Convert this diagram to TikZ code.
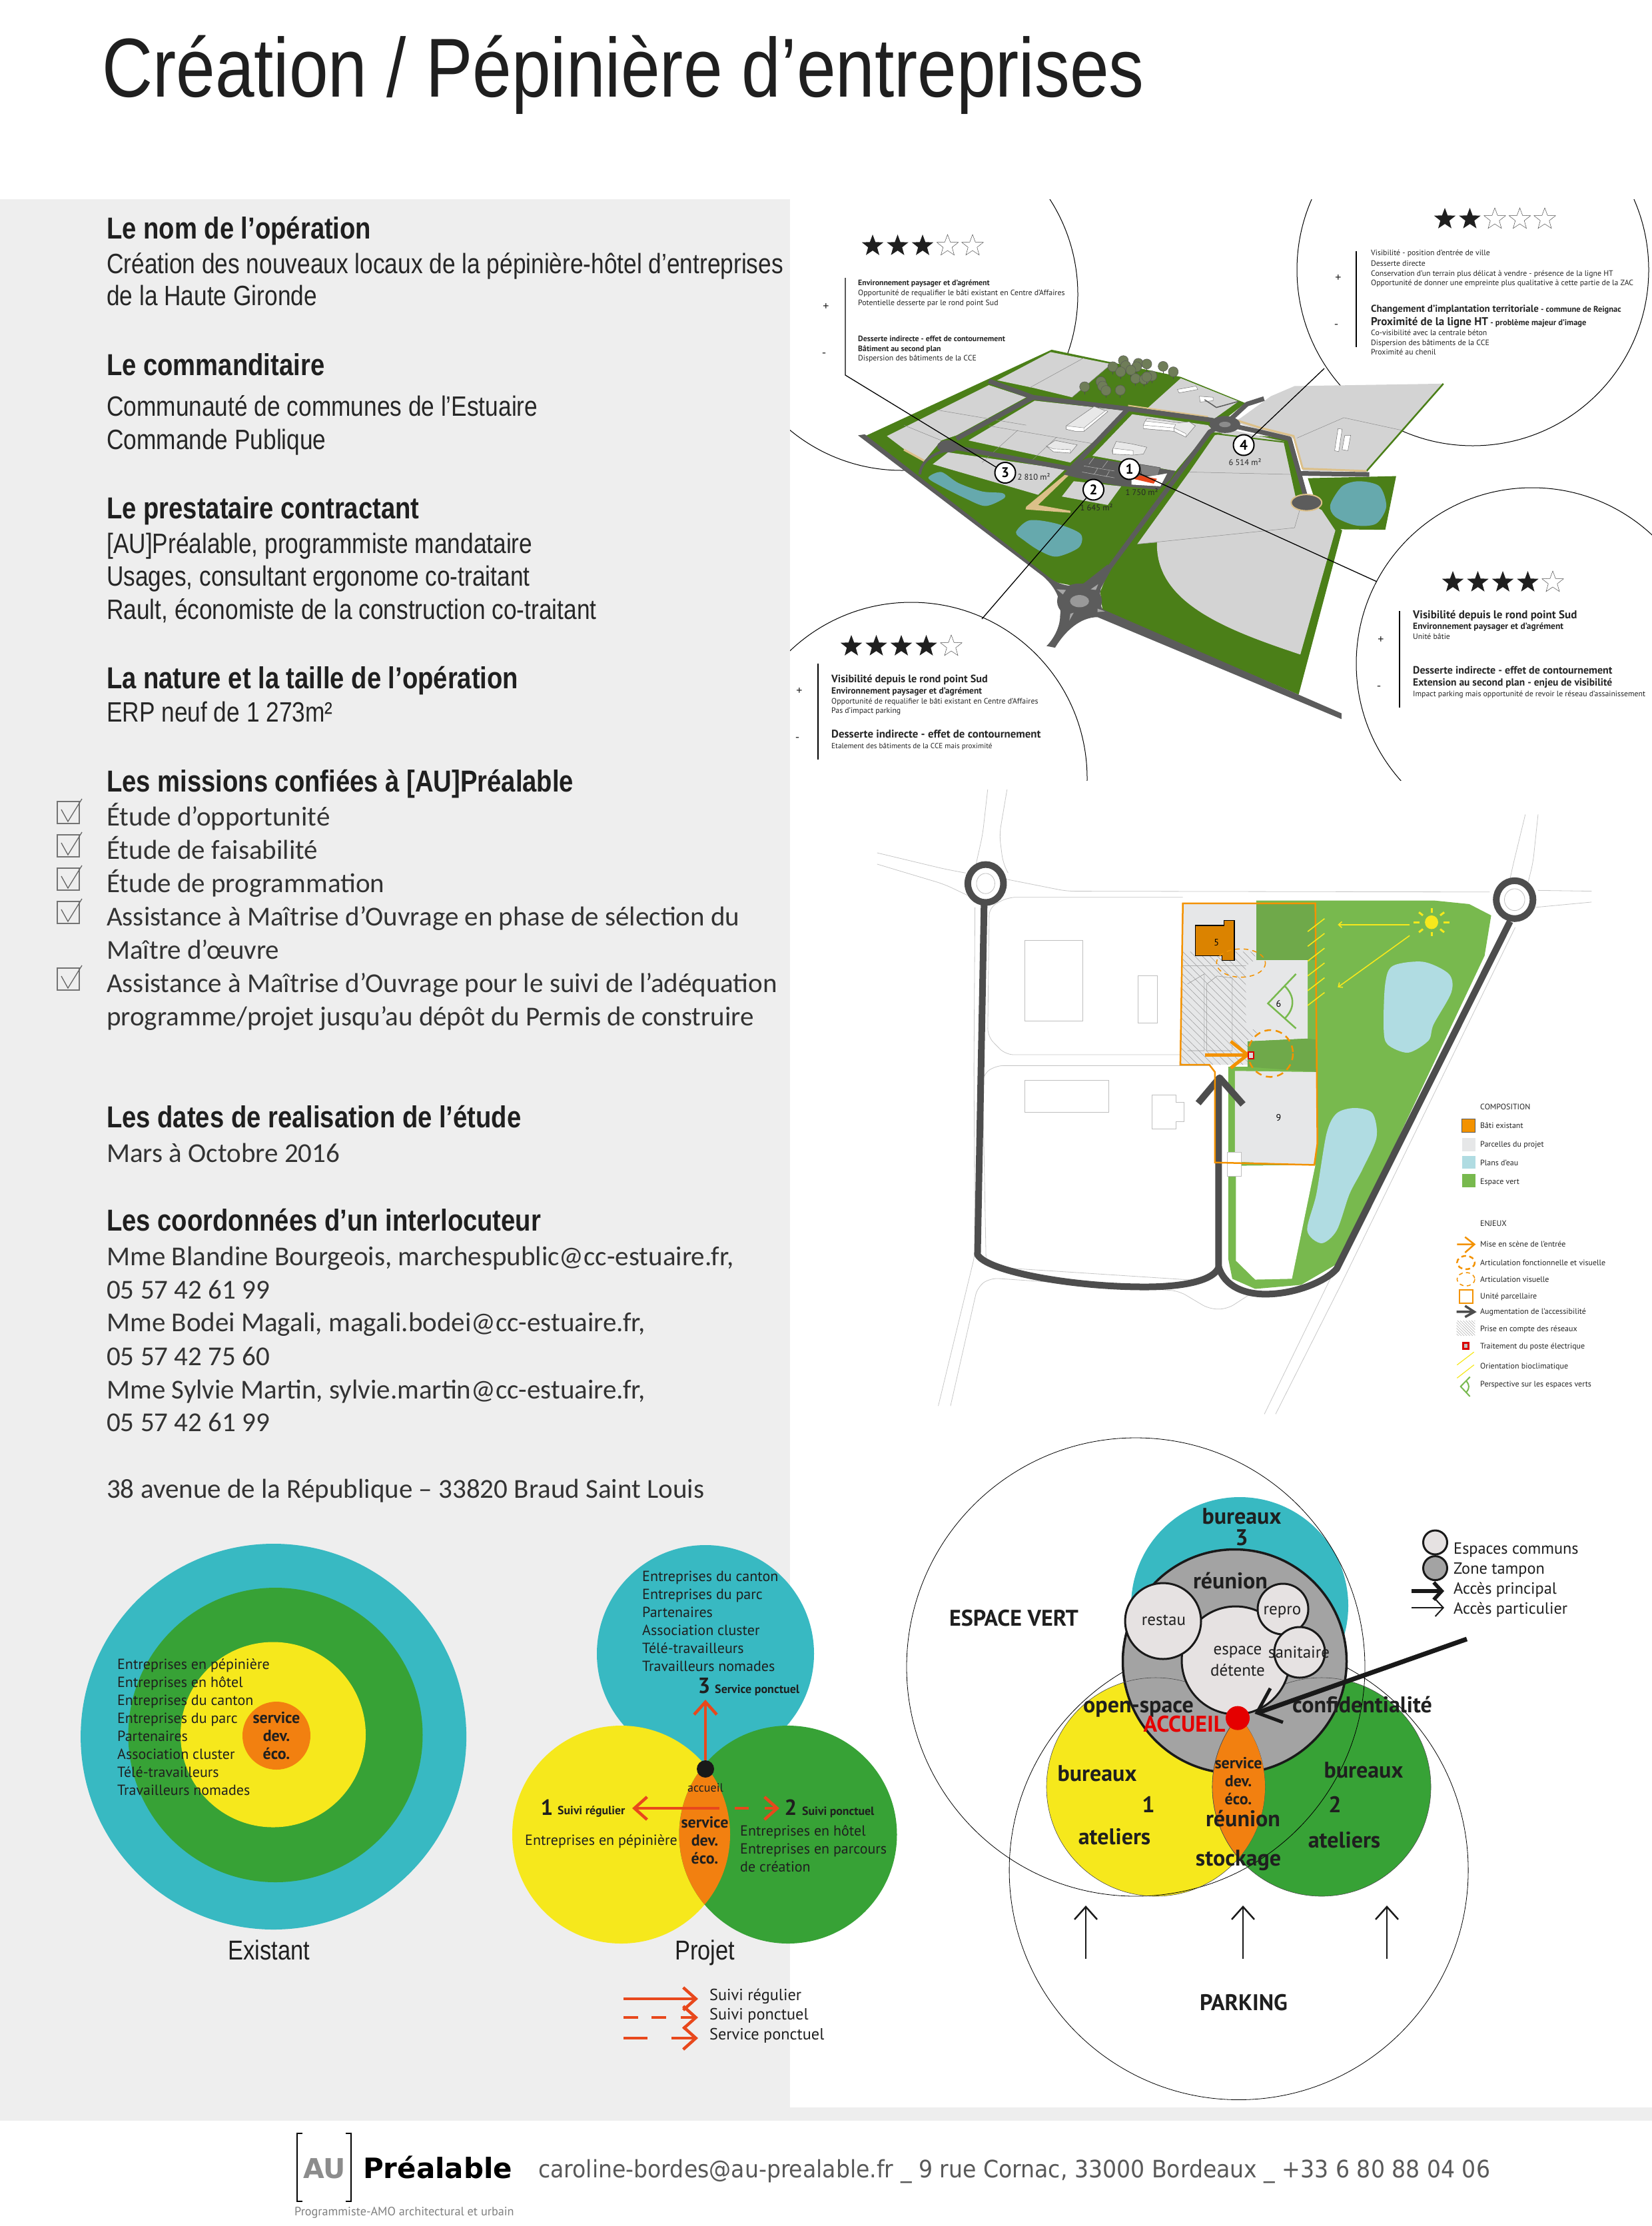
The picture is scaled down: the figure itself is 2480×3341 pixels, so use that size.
\documentclass[tikz,border=0pt]{standalone}
\usepackage{fontspec}
\usetikzlibrary{arrows.meta,patterns.meta,shapes.geometric}
\setmainfont{PT Sans}
\newfontfamily\narrowfont[FakeStretch=.84]{Liberation Sans}
\newfontfamily\carlitofont{Carlito}
\newfontfamily\footfont{DejaVu Sans}
\newfontfamily\footnarrow[FakeStretch=.92]{DejaVu Sans}
\definecolor{panelgray}{HTML}{EEEEEE}
\definecolor{bluec}{HTML}{38B9C2}
\definecolor{greenc}{HTML}{37A236}
\definecolor{yellowc}{HTML}{F6E81C}
\definecolor{orangec}{HTML}{F28010}
\definecolor{redarrow}{HTML}{E8481C}
\definecolor{roadgray}{HTML}{5C5C5C}
\definecolor{plotgray}{HTML}{D3D3D3}
\definecolor{grassgreen}{HTML}{4B7F18}
\definecolor{pondblue}{HTML}{66A9AD}
\definecolor{sandc}{HTML}{DCC089}
\definecolor{treec}{HTML}{6F7D58}
\definecolor{planroad}{HTML}{4D4D4D}
\definecolor{plangreen}{HTML}{78B94E}
\definecolor{plandark}{HTML}{6FA94A}
\definecolor{planplot}{HTML}{E6E7E8}
\definecolor{planpond}{HTML}{B0DCE2}
\definecolor{planorange}{HTML}{F39200}
\definecolor{commonc}{HTML}{E6E2E2}
\definecolor{bufferc}{HTML}{A3A3A3}
\def\fsz#1{\fontsize{#1}{#1}\selectfont}
\tikzset{
  headtxt/.style={anchor=base west,inner sep=0pt,text=black!88,font=\narrowfont\bfseries\fsz{45.5}},
  narrowtxt/.style={anchor=base west,inner sep=0pt,text=black!85,font=\narrowfont\fsz{42}},
  bodytxt/.style={anchor=base west,inner sep=0pt,text=black!80,font=\carlitofont\fsz{41}},
  tinytxt/.style={anchor=base west,inner sep=0pt,text=black!85,font=\fsz{11.8}},
  tinybold/.style={tinytxt,font=\bfseries\fsz{11.8}},
  diagtxt/.style={anchor=base west,inner sep=0pt,text=black!88,font=\fsz{22}},
  keytxt/.style={anchor=base west,inner sep=0pt,text=black!88,font=\fsz{24.3}},
  diagbold/.style={anchor=base,inner sep=0pt,text=black!88,font=\bfseries\fsz{24}},
  venntxt/.style={anchor=base,inner sep=0pt,text=black!88,font=\bfseries\fsz{34}},
  legtxt/.style={anchor=base west,inner sep=0pt,text=black!85,font=\fsz{12}},
  plotnum/.style={circle,draw=black,line width=2pt,fill=white,inner sep=0pt,minimum size=31pt,font=\bfseries\fsz{21}},
  areatxt/.style={anchor=center,inner sep=0pt,text=black!85,font=\fsz{12.5}},
  road/.style={draw=roadgray,line width=7pt,line join=round},
  sandline/.style={draw=sandc,line width=3pt,line join=round},
  thinplot/.style={draw=black!45,line width=.5pt},
  whitebuilding/.style={fill=black!9,draw=black!55,line width=.5pt},
  buildingfront/.style={fill=white,draw=black!55,line width=.4pt},
  planline/.style={draw=black!22,line width=.8pt,rounded corners=12pt},
  planring/.style={draw=planroad,line width=10pt,line join=round},
  redarrowline/.style={draw=redarrow,line width=4.5pt,-{Straight Barb[length=19pt,width=34pt]}},
  reddash/.style={draw=redarrow,line width=4.5pt},
  upblack/.style={draw=black!90,line width=2.5pt,-{Straight Barb[length=19pt,width=34pt]}},
}
\def\ratestars#1#2#3#4{%
  \foreach \s in {1,...,#4}{
    \node[star,star points=5,star point ratio=2.4,minimum size=34pt,inner sep=0pt,fill=black!88] (#1\s) at ({#2+37.5*(\s-1)},#3) {};
  }
  \pgfmathtruncatemacro\firstempty{#4+1}
  \foreach \s in {\firstempty,...,5}{
    \node[star,star points=5,star point ratio=2.4,minimum size=34pt,inner sep=0pt,draw=black!70,line width=.5pt] (#1\s) at ({#2+37.5*(\s-1)},#3) {};
  }
}
\def\exBlue{(410.6,2606.5) circle (289.5pt)}
\def\prYellow{(932.5,2753.5) circle (163.5pt)}
\def\prGreen{(1183,2753.5) circle (163.5pt)}
\def\prBlue{(1059,2482) circle (163pt)}
\def\orgYellow{(1735,2682) circle (164pt)}
\def\orgGreen{(1984,2682) circle (164pt)}
\def\orgBlue{(1861,2410) circle (163pt)}
\begin{document}
\begin{tikzpicture}[x=1pt,y=-1pt]
\useasboundingbox (0,0) rectangle (2480,3341);
\fill[white] (0,0) rectangle (2480,3341);
\fill[panelgray] (0,299) rectangle (1186,3183);
\fill[panelgray] (1186,3163) rectangle (2480,3183);

% title
\node[anchor=base west,inner sep=0pt,text=black!88,font=\narrowfont\fsz{125.5}] (title) at (153,145) {Création / Pépinière d’entreprises};

% left column
\foreach \ypos/\linetxt [count=\n] in {358/{Le nom de l’opération},563/{Le commanditaire},778/{Le prestataire contractant},1033/{La nature et la taille de l’opération},1188/{Les missions confiées à [AU]Préalable},1692/{Les dates de realisation de l’étude},1847/{Les coordonnées d’un interlocuteur}}{
  \node[headtxt] (head\n) at (160,\ypos) {\linetxt};
}
\foreach \ypos/\linetxt [count=\n] in {410/{Création des nouveaux locaux de la pépinière-hôtel d’entreprises},458/{de la Haute Gironde},624/{Communauté de communes de l’Estuaire},674/{Commande Publique},830/{[AU]Préalable, programmiste mandataire},879/{Usages, consultant ergonome co-traitant},929/{Rault, économiste de la construction co-traitant},1083/{ERP neuf de 1 273m²}}{
  \node[narrowtxt] (narrow\n) at (160,\ypos) {\linetxt};
}
\foreach \ypos/\linetxt [count=\n] in {1239/{Étude d’opportunité},1289/{Étude de faisabilité},1339/{Étude de programmation},1389/{Assistance à Maîtrise d’Ouvrage en phase de sélection du},1439/{Maître d’œuvre},1489/{Assistance à Maîtrise d’Ouvrage pour le suivi de l’adéquation},1539/{programme/projet jusqu’au dépôt du Permis de construire},1744/{Mars à Octobre 2016},1899/{Mme Blandine Bourgeois, marchespublic@cc-estuaire.fr,},1949/{05 57 42 61 99},1998/{Mme Bodei Magali, magali.bodei@cc-estuaire.fr,},2049/{05 57 42 75 60},2099/{Mme Sylvie Martin, sylvie.martin@cc-estuaire.fr,},2148/{05 57 42 61 99},2248/{38 avenue de la République – 33820 Braud Saint Louis}}{
  \node[bodytxt] (body\n) at (160,\ypos) {\linetxt};
}
\foreach \ypos in {1203,1253,1303,1353,1453}{
  \draw[black!55,line width=1.2pt,fill=panelgray] (86,\ypos) rectangle (119,\ypos+33);
  \draw[black!60,line width=1.3pt] (92,\ypos+12) -- (102,\ypos+30) -- (123,\ypos-4);
}

% circles round the aerial view
\begin{scope}
  \clip (1186,299) rectangle (2480,1171);
  \draw[black,line width=1pt] (1354,442) circle (264pt) (2211,405) circle (264pt) (2300,996) circle (264pt) (1368,1168) circle (264pt);
\end{scope}

% aerial view
\begin{scope}[shift={(1260,480)},x=.51pt,y=-.51pt]
  \fill[grassgreen] (70,345) -- (625,88) -- (1005,168) -- (1195,245) -- (1100,320) -- (800,730) -- (770,760) -- (700,785) -- (625,770) -- cycle;
  \fill[grassgreen] (775,857) -- (768,800) -- (795,735) -- (1090,330) -- (1325,348) -- (1360,450) -- (1380,540) -- (1480,620) -- (1352,1103) -- cycle;
  \fill[grassgreen] (1379,466) -- (1639,460) -- (1607,618) -- (1428,616) -- cycle;
  \fill[plotgray] (465,178) -- (622,95) -- (800,130) -- (685,228) -- (570,200) -- cycle;
  \fill[plotgray] (905,262) -- (1005,172) -- (1175,240) -- (1105,290) -- cycle;
  \fill[plotgray] (140,342) -- (440,192) -- (550,228) -- (345,340) -- (300,355) -- (250,415) -- (190,380) -- cycle;
  \fill[plotgray] (380,355) -- (575,238) -- (848,268) -- (680,420) -- cycle;
  \fill[plotgray] (745,400) -- (862,278) -- (1085,310) -- (1095,320) -- (990,445) -- (880,425) -- cycle;
  \fill[plotgray] (275,425) -- (320,390) -- (665,440) -- (585,515) -- cycle;
  \fill[plotgray] (655,520) -- (690,475) -- (830,490) -- (790,545) -- cycle;
  \fill[plotgray] (1180,290) -- (1270,225) -- (1340,195) -- (1778,188) -- (1552,445) -- (1365,445) -- (1340,350) -- (1240,325) -- (1160,300) -- cycle;
  \draw[grassgreen,line width=2.5pt] (1778,188) -- (1552,445);
  \fill[plotgray] (1105,340) -- (1160,325) -- (1310,358) -- (1345,520) -- (1420,560) -- (1460,620) -- (1357,985) .. controls (1130,910) and (930,830) .. (935,655) -- (877,660) -- (1030,448) -- cycle;
  \draw[thinplot] (1030,448) -- (1330,455) (877,660) -- (1340,612) -- (1355,560) (1347,348) -- (1485,288) -- (1655,325);
  \draw[thinplot] (285,265) -- (550,310) (440,312) -- (750,365) (525,325) -- (420,420) (640,345) -- (555,425) (685,228) -- (795,135) (560,200) -- (720,112) (190,310) -- (300,355);
  \fill[pondblue] plot[smooth cycle] coordinates {(262,465) (300,448) (350,480) (420,505) (480,510) (485,525) (430,548) (370,525) (300,490)};
  \fill[pondblue] plot[smooth cycle] coordinates {(520,625) (560,590) (640,600) (710,630) (705,670) (640,697) (590,680) (545,650)};
  \fill[pondblue] plot[smooth cycle] coordinates {(1445,545) (1480,490) (1530,475) (1590,490) (1610,550) (1580,600) (1520,605) (1460,580)};
  \fill[sandc] (550,550) -- (665,455) -- (675,458) -- (585,545) -- (680,562) -- (680,568) -- (548,558) -- cycle;
  \draw[sandline,line width=2pt] (850,252) -- (1085,285);
  \draw[sandline] (190,382) -- (250,415);
  \draw[sandline] (1170,296) -- (1240,318) -- (1337,342) -- (1364,438) -- (1552,445);
  \draw[grassgreen,line width=2pt] (1105,335) -- (1310,360) -- (1345,520);
  \fill[roadgray] (55,340) -- (75,337) -- (620,760) .. controls (650,782) and (690,790) .. (720,775) -- (790,720) -- (800,735) -- (770,790) .. controls (765,815) and (765,835) .. (775,852) -- (1478,1158) -- (1478,1175) -- (760,875) .. controls (710,875) and (665,915) .. (635,965) -- (610,960) .. controls (630,940) and (650,905) .. (650,870) .. controls (655,830) and (640,790) .. (600,755) -- cycle;
  \fill[roadgray] (707,828) ellipse (66 and 52);
  \draw[road] (440,180) -- (570,228) -- (850,262) -- (1095,295) -- (1135,308) -- (1200,248) -- (1250,232);
  \draw[road] (570,228) -- (345,350);
  \draw[road] (850,262) -- (680,440);
  \draw[road] (320,372) -- (690,440);
  \draw[road] (1130,308) -- (1090,330) -- (780,750);
  \draw[road,line width=4pt] (237,455) .. controls (240,410) and (290,385) .. (340,380);
  \draw[road] (1150,310) -- (1240,330) -- (1325,350) -- (1350,440) -- (1375,530);
  \draw[road] (1350,452) -- (1560,455);
  \filldraw[fill=roadgray,draw=sandc,line width=2pt] (1375,538) ellipse (45 and 24);
  \fill[roadgray] (320,372) ellipse (32 and 18);
  \fill[roadgray] (1135,308) ellipse (45 and 25);
  \fill[black!45] (1135,308) ellipse (17 and 8);
  \fill[roadgray] (735,405) -- (990,445) -- (975,470) -- (940,500) -- (820,488) -- (700,465) -- (660,455) -- (690,425) -- cycle;
  \fill[black!40] (707,828) ellipse (28 and 18);
  \fill[black!35] (640,793) -- (667,795) -- (658,808) -- cycle (740,793) -- (762,778) -- (755,795) -- cycle (760,850) -- (782,858) -- (760,860) -- cycle (677,885) -- (690,862) -- (680,865) -- cycle;
  \draw[black!30,line width=.6pt] (720,430) -- (810,445) (715,448) -- (810,465) (750,405) -- (735,425) (790,415) -- (775,435) (760,438) -- (750,455) (795,445) -- (785,462);
  \draw[whitebuilding] (668,312) -- (750,255) -- (790,270) -- (720,328) -- (695,328) -- (668,322) -- cycle;
  \draw[buildingfront] (668,312) -- (720,318) -- (720,328) -- (695,328) -- (668,322) -- cycle (720,318) -- (785,266) -- (790,270) -- (720,328) -- cycle;
  \draw[whitebuilding] (895,310) -- (905,290) -- (1000,303) -- (1030,300) -- (1048,312) -- (1020,345) -- (985,328) -- (895,320) -- cycle;
  \draw[buildingfront] (895,310) -- (985,318) -- (985,328) -- (895,320) -- cycle (985,318) -- (1020,335) -- (1020,345) -- (985,328) -- cycle (900,298) -- (990,308) -- (985,318) -- (895,310) -- cycle;
  \draw[whitebuilding] (610,372) -- (635,355) -- (700,368) -- (680,392) -- (630,388) -- cycle;
  \draw[buildingfront] (610,372) -- (630,380) -- (680,382) -- (680,392) -- (630,388) -- cycle;
  \draw[whitebuilding] (803,385) -- (815,358) -- (860,365) -- (905,375) -- (895,395) -- (865,398) -- (805,395) -- cycle;
  \draw[buildingfront] (805,378) -- (865,385) -- (865,398) -- (805,395) -- cycle;
  \draw[whitebuilding,fill=white] (995,205) -- (1050,195) -- (1055,205) -- (1000,215) -- cycle;
  \draw[whitebuilding,fill=white] (1060,225) -- (1100,228) -- (1100,238) -- (1062,242) -- cycle;
  \draw[whitebuilding,fill=white] (1458,385) -- (1468,320) -- (1480,322) -- (1470,388) -- cycle;
  \draw[whitebuilding,fill=white] (1480,382) -- (1488,340) -- (1505,340) -- (1497,385) -- cycle;
  \draw[roadgray,line width=1.5pt] (1075,235) -- (1110,258) -- (1175,240);
  \filldraw[fill=black!50,draw=black!70,line width=.5pt] (885,425) -- (945,435) -- (935,465) -- (890,455) -- cycle;
  \fill[white] (860,470) -- (965,452) -- (945,490) -- (860,485) -- cycle;
  \fill[redarrow] (865,468) -- (885,458) -- (935,468) -- (925,482) -- cycle;
  \foreach \tx/\ty in {836/120,805/138,843/135,880/128,905/130,953/137,983/153,828/153,875/138,858/148,872/173,898/175,920/165,905/168,722/197,770/182,775/195,785/208,827/207}{
    \draw[black!70,line width=1pt] (\tx,\ty) -- (\tx,\ty+22);
    \filldraw[fill=treec,draw=black!65,line width=.5pt] (\tx,\ty) circle (7.5pt);
  }
\end{scope}

% numbered plots
\node[plotnum] (plotA) at (1695.5,704) {1};
\node[plotnum] (plotB) at (1641.5,735) {2};
\node[plotnum] (plotC) at (1509,709.5) {3};
\node[plotnum] (plotD) at (1867,668) {4};
\coordinate (endA) at (2067,873);
\coordinate (endB) at (1474,929);
\coordinate (endC) at (1269,563);
\coordinate (topC) at (1269,417);
\coordinate (endD) at (1988,553);
\draw[black,line width=1.3pt] (plotA) -- (endA) (plotB) -- (endB) (plotC) -- (endC) -- (topC) (plotD) -- (endD);
\draw[black,line width=1.3pt] (2101,917) -- (2101,1062) (1228,996) -- (1228,1140) (2036,377) -- (2036,521);
\node[areatxt] (areaA) at (1714,739) {1 750 m²};
\node[areatxt] (areaB) at (1646,762) {1 645 m²};
\node[areatxt] (areaC) at (1552,716) {2 810 m²};
\node[areatxt] (areaD) at (1869,694) {6 514 m²};

% ratings
\ratestars{starA}{1310}{369}{3}
\ratestars{starB}{2169}{329}{2}
\ratestars{starC}{2181}{874}{4}
\ratestars{starD}{1278}{970}{4}
\foreach \sx/\sy/\sign [count=\n] in {1240/460/+,1237/533/-,2009/417/+,2006/490/-,2073/960/+,2070/1033/-,1200/1037/+,1197/1110/-}{
  \node[anchor=center,inner sep=0pt,font=\fsz{18},text=black!85] (sign\n) at (\sx,\sy) {\sign};
}
\node[tinybold] (ta1) at (1288,428) {Environnement paysager et d’agrément};
\node[tinytxt] (ta2) at (1288,443) {Opportunité de requalifier le bâti existant en Centre d’Affaires};
\node[tinytxt] (ta3) at (1288,458) {Potentielle desserte par le rond point Sud};
\node[tinybold] (ta4) at (1288,512) {Desserte indirecte - effet de contournement};
\node[tinybold] (ta5) at (1288,527) {Bâtiment au second plan};
\node[tinytxt] (ta6) at (1288,541) {Dispersion des bâtiments de la CCE};
\node[tinytxt] (tb1) at (2058,383) {Visibilité - position d’entrée de ville};
\node[tinytxt] (tb2) at (2058,399) {Desserte directe};
\node[tinytxt] (tb3) at (2058,414) {Conservation d’un terrain plus délicat à vendre - présence de la ligne HT};
\node[tinytxt] (tb4) at (2058,428) {Opportunité de donner une empreinte plus qualitative à cette partie de la ZAC};
\node[tinybold,font=\bfseries\fsz{12.5}] (tb5) at (2058,468) {{\fsz{15}Changement d’implantation territoriale} - commune de Reignac};
\node[tinybold,font=\bfseries\fsz{12.5}] (tb6) at (2058,488) {{\fsz{17}Proximité de la ligne HT} - problème majeur d’image};
\node[tinytxt] (tb7) at (2058,503) {Co-visibilité avec la centrale béton};
\node[tinytxt] (tb8) at (2058,518) {Dispersion des bâtiments de la CCE};
\node[tinytxt] (tb9) at (2058,532) {Proximité au chenil};
\node[tinybold,font=\bfseries\fsz{17}] (tc1) at (2121,928) {Visibilité depuis le rond point Sud};
\node[tinybold,font=\bfseries\fsz{13.5}] (tc2) at (2121,944) {Environnement paysager et d’agrément};
\node[tinytxt] (tc3) at (2121,959) {Unité bâtie};
\node[tinybold,font=\bfseries\fsz{16}] (tc4) at (2121,1011) {Desserte indirecte - effet de contournement};
\node[tinybold,font=\bfseries\fsz{15.5}] (tc5) at (2121,1029) {Extension au second plan - enjeu de visibilité};
\node[tinytxt] (tc6) at (2121,1045) {Impact parking mais opportunité de revoir le réseau d’assainissement};
\node[tinybold,font=\bfseries\fsz{16.2}] (td1) at (1248,1024) {Visibilité depuis le rond point Sud};
\node[tinybold,font=\bfseries\fsz{13.5}] (td2) at (1248,1041) {Environnement paysager et d’agrément};
\node[tinytxt] (td3) at (1248,1056) {Opportunité de requalifier le bâti existant en Centre d’Affaires};
\node[tinytxt] (td4) at (1248,1070) {Pas d’impact parking};
\node[tinybold,font=\bfseries\fsz{16.8}] (td5) at (1248,1107) {Desserte indirecte - effet de contournement};
\node[tinytxt,font=\fsz{11.2}] (td6) at (1248,1123) {Etalement des bâtiments de la CCE mais proximité};

% plan
\begin{scope}[shift={(1280,1180)},x=.765pt,y=-.606pt]
  \draw[planline] (48,165) -- (180,205) -- (222,215);
  \draw[planline] (48,193) -- (180,243) -- (225,270);
  \draw[planline] (303,8) -- (288,120) -- (295,190) -- (305,215);
  \draw[planline] (265,8) -- (255,120) -- (240,205);
  \draw[planline] (300,230) -- (420,260) -- (1250,262);
  \draw[planline] (1320,70) -- (1295,200) -- (1290,230);
  \draw[planline] (1345,70) -- (1335,190) -- (1325,240);
  \draw[planline] (1345,258) -- (1450,260) (1340,300) -- (1450,287);
  \draw[planline] (648,275) -- (305,275) -- (268,300) -- (265,620) -- (300,665) -- (643,665);
  \draw[planline] (700,692) -- (280,692) -- (255,715) -- (262,1190) -- (690,1225);
  \draw[planline] (240,300) -- (238,700) -- (240,1160) -- (168,1535);
  \draw[planline] (192,1535) -- (245,1240) -- (270,1218) -- (640,1250) -- (700,1295) -- (735,1295) -- (780,1258);
  \draw[planline] (808,1555) -- (945,1200);
  \draw[planline] (830,1555) -- (960,1230) -- (1300,350);
  \draw[black!25,line width=.8pt] (338,382) rectangle (452,582) (560,470) rectangle (598,586) (338,728) rectangle (503,808);
  \draw[black!25,line width=.8pt] (588,765) -- (635,765) -- (635,783) -- (650,783) -- (650,830) -- (635,830) -- (635,848) -- (588,848) -- cycle;
  \draw[black!25,line width=.8pt] (261,241) ellipse (18 and 25) (1299,281) ellipse (20 and 27);
  \fill[plangreen] (792,283) -- (1140,283) -- (1210,292) -- (1253,320) -- (1240,420) -- (955,1180) -- (880,1235) -- (790,1245) -- (745,1220) -- (737,1170) -- (737,695) -- (780,695) -- (775,632) -- (792,430) -- cycle;
  \fill[white] (752,940) -- (908,938) -- (862,1220) -- (790,1222) -- (752,1175) -- cycle;
  \fill[planplot] (648,290) -- (792,290) -- (792,430) -- (893,430) -- (893,625) -- (775,632) -- (775,690) -- (643,690) -- cycle;
  \fill[plandark] (792,290) -- (908,290) -- (908,430) -- (792,430) -- cycle;
  \fill[plandark] (775,632) -- (893,625) -- (911,628) -- (912,708) -- (775,695) -- cycle;
  \fill[planplot] (750,705) -- (912,708) -- (912,885) -- (906,938) -- (750,930) -- cycle;
  \fill[pattern={Lines[angle=-45,distance=8pt,line width=.5pt]},pattern color=black!40] (648,410) -- (790,410) -- (790,430) -- (772,445) -- (772,600) -- (800,605) -- (775,630) -- (775,690) -- (643,690) -- cycle;
  \draw[black!40,line width=.6pt] (648,445) -- (772,445) (657,490) -- (690,465) -- (690,655) -- (657,655) (695,490) -- (715,470) -- (745,475) -- (745,655) -- (695,655) -- cycle;
  \filldraw[fill=white,draw=black!25,line width=.6pt] (735,907) rectangle (763,965);
  \fill[planpond] plot[smooth cycle] coordinates {(1045,490) (1060,445) (1120,435) (1170,465) (1175,510) (1140,590) (1130,630) (1090,660) (1050,640) (1042,600)};
  \fill[planpond] plot[smooth cycle] coordinates {(985,797) (1020,810) (1028,870) (1000,950) (975,1010) (950,1100) (920,1132) (892,1100) (910,1010) (930,860) (950,810)};
  \draw[planring] (258,290) -- (245,1160) .. controls (262,1200) and (420,1238) .. (560,1240) .. controls (660,1242) and (710,1220) .. (718,1192) -- (718,720);
  \draw[planring] (718,1190) .. controls (730,1240) and (770,1258) .. (810,1258) .. controls (870,1258) and (930,1225) .. (950,1195) -- (1290,335);
  \draw[planring] (678,785) -- (720,722) -- (766,788);
  \draw[planring] (261,241) ellipse (35 and 47) (1299,281) ellipse (36 and 47);
  \draw[planorange,line width=2.5pt] (648,290) -- (908,290) -- (912,885) -- (906,938) -- (711,932) -- (711,708) -- (700,690) -- (643,690) -- cycle;
  \filldraw[fill=planorange!90!black,draw=black,line width=1.2pt] (673,345) -- (729,345) -- (729,332) -- (749,332) -- (749,432) -- (725,432) -- (725,420) -- (673,420) -- cycle;
  \node[anchor=center,inner sep=0pt,font=\fsz{14}] (numF) at (714,387) {5};
  \node[anchor=center,inner sep=0pt,font=\fsz{14}] (numS) at (836,539) {6};
  \node[anchor=center,inner sep=0pt,font=\fsz{14}] (numN) at (836,821) {9};
  \draw[planorange,line width=1.5pt,dash pattern=on 7pt off 6pt] (762,438) ellipse (48 and 35);
  \draw[planorange,line width=2.5pt,dash pattern=on 10pt off 7pt] (820,662) ellipse (44 and 58);
  \draw[planorange,line width=5pt] (692,665) -- (772,665);
  \draw[planorange,line width=5pt] (742,632) -- (775,665) -- (742,698);
  \fill[red!85!black] (775,656) rectangle (788,677);
  \fill[black!15] (778,660) rectangle (785,673);
  \draw[plangreen,line width=2.5pt] (870,465) -- (815,538) -- (870,600) (848,495) .. controls (868,520) and (868,550) .. (848,575);
  \foreach \i in {0,...,5}{
    \draw[yellowc,line width=1.6pt] (893,360+36.6*\i) -- (926,328+36.6*\i);
  }
  \draw[yellowc,line width=1.6pt,-{Straight Barb[length=5pt,width=9pt]}] (1093,343) -- (952,343);
  \draw[yellowc,line width=1.6pt,-{Straight Barb[length=5pt,width=9pt]}] (1093,370) -- (952,498);
  \fill[yellowc] (1136,337) ellipse (13 and 17);
  \foreach \a in {0,45,...,315}{
    \draw[yellowc,line width=3pt] ([shift={(\a:24)}]1136,337) -- ([shift={(\a:35)}]1136,337);
  }
\end{scope}

% plan legend
\node[legtxt] (lg1) at (2222,1665) {COMPOSITION};
\node[legtxt] (lg2) at (2222,1693) {Bâti existant};
\node[legtxt] (lg3) at (2222,1721) {Parcelles du projet};
\node[legtxt] (lg4) at (2222,1749) {Plans d’eau};
\node[legtxt] (lg5) at (2222,1777) {Espace vert};
\node[legtxt] (lg6) at (2222,1840) {ENJEUX};
\node[legtxt] (lg7) at (2222,1871) {Mise en scène de l’entrée};
\node[legtxt] (lg8) at (2222,1899) {Articulation fonctionnelle et visuelle};
\node[legtxt] (lg9) at (2222,1924) {Articulation visuelle};
\node[legtxt] (lg10) at (2222,1949) {Unité parcellaire};
\node[legtxt] (lg11) at (2222,1972) {Augmentation de l’accessibilité};
\node[legtxt] (lg12) at (2222,1998) {Prise en compte des réseaux};
\node[legtxt] (lg13) at (2222,2024) {Traitement du poste électrique};
\node[legtxt] (lg14) at (2222,2054) {Orientation bioclimatique};
\node[legtxt] (lg15) at (2222,2081) {Perspective sur les espaces verts};
\begin{scope}[shift={(2180,1630)},x=.3333pt,y=-.3333pt]
  \filldraw[fill=planorange,draw=black!65,line width=1.2pt] (44,148) rectangle (104,208);
  \fill[planplot] (44,235) rectangle (104,293);
  \fill[planpond] (44,314) rectangle (104,372);
  \fill[plangreen] (44,397) rectangle (104,455);
  \draw[planorange,line width=2.5pt] (22,713) -- (98,713) (58,680) -- (100,713) -- (58,750);
  \draw[planorange,line width=2.5pt,dash pattern=on 7pt off 5pt] (62,795) ellipse (40 and 30);
  \draw[planorange,line width=1.5pt,dash pattern=on 6pt off 5pt] (62,870) ellipse (40 and 30);
  \draw[planorange,line width=1.8pt] (32,917) rectangle (93,977);
  \draw[planroad,line width=3.5pt] (20,1017) -- (95,1017) (58,990) -- (100,1017) -- (58,1040);
  \fill[pattern={Lines[angle=-45,distance=3pt,line width=.4pt]},pattern color=black!45] (20,1058) rectangle (103,1125);
  \fill[red!85!black] (46,1152) rectangle (78,1187);
  \fill[black!25] (55,1160) rectangle (69,1178);
  \draw[yellowc,line width=1.2pt] (22,1256) -- (98,1198) (22,1315) -- (98,1256);
  \draw[plangreen,line width=2pt] (80,1310) -- (38,1353) -- (80,1398) (65,1330) .. controls (78,1345) and (78,1362) .. (65,1378);
\end{scope}

% existant
\fill[bluec] \exBlue;
\fill[greenc] (413.5,2604) circle (221pt);
\fill[yellowc] (410,2603.5) circle (139pt);
\fill[orangec] (415,2605) circle (51pt);
\foreach \ypos/\linetxt [count=\n] in {2505/{Entreprises en pépinière},2532/{Entreprises en hôtel},2559/{Entreprises du canton},2586/{Entreprises du parc},2613/{Partenaires},2640/{Association cluster},2667/{Télé-travailleurs},2694/{Travailleurs nomades}}{
  \node[diagtxt] (ex\n) at (176,\ypos) {\linetxt};
}
\node[diagbold] (exS) at (415,2586) {service};
\node[diagbold] (exD) at (415,2613) {dev.};
\node[diagbold] (exE) at (415,2640) {éco.};
\node[anchor=base,inner sep=0pt,text=black!88,font=\narrowfont\fsz{41}] (exName) at (404,2941) {Existant};

% projet
\fill[bluec] \prBlue;
\fill[yellowc] \prYellow;
\fill[greenc] \prGreen;
\begin{scope}
  \clip \prYellow;
  \fill[orangec] \prGreen;
\end{scope}
\foreach \ypos/\linetxt [count=\n] in {2373/{Entreprises du canton},2400/{Entreprises du parc},2427/{Partenaires},2454/{Association cluster},2481/{Télé-travailleurs},2508/{Travailleurs nomades}}{
  \node[diagtxt] (pr\n) at (964,\ypos) {\linetxt};
}
\node[diagtxt] (prA) at (788,2769) {Entreprises en pépinière};
\node[diagtxt] (prB) at (1111,2755) {Entreprises en hôtel};
\node[diagtxt] (prC) at (1111,2782) {Entreprises en parcours};
\node[diagtxt] (prD) at (1111,2809) {de création};
\node[diagbold] (prS) at (1058,2743) {service};
\node[diagbold] (prV) at (1058,2770) {dev.};
\node[diagbold] (prE) at (1058,2797) {éco.};
\node[circle,fill=black!90,minimum size=26pt,inner sep=0pt] (hub) at (1059,2655) {};
\node[anchor=base,inner sep=0pt,font=\fsz{18},text=black!88] (hubtxt) at (1059,2689) {accueil};
\node[anchor=base,inner sep=0pt,font=\bfseries\fsz{33},text=black!88] (numA) at (821,2724) {1};
\node[anchor=base west,inner sep=0pt,font=\bfseries\fsz{17.8},text=black!88] (suiviA) at (837,2723) {Suivi régulier};
\node[anchor=base,inner sep=0pt,font=\bfseries\fsz{33},text=black!88] (numB) at (1187,2724) {2};
\node[anchor=base west,inner sep=0pt,font=\bfseries\fsz{17.8},text=black!88] (suiviB) at (1204,2724) {Suivi ponctuel};
\node[anchor=base,inner sep=0pt,font=\bfseries\fsz{33},text=black!88] (numC) at (1057,2541) {3};
\node[anchor=base west,inner sep=0pt,font=\bfseries\fsz{18},text=black!88] (suiviC) at (1073,2541) {Service ponctuel};
\coordinate (upEnd) at (1059,2551);
\coordinate (leftStart) at (1080,2714);
\coordinate (leftEnd) at (949,2714);
\draw[redarrowline] (hub) -- (upEnd);
\draw[redarrowline] (leftStart) -- (leftEnd);
\draw[reddash] (1103,2714) -- (1124,2714);
\coordinate (rightStart) at (1148,2714);
\coordinate (rightEnd) at (1170,2714);
\draw[redarrowline] (rightStart) -- (rightEnd);
\node[anchor=base,inner sep=0pt,text=black!88,font=\narrowfont\fsz{41}] (prName) at (1058,2941) {Projet};

% projet legend
\coordinate (lgA0) at (936,3000);
\coordinate (lgA1) at (1048,3000);
\draw[redarrowline] (lgA0) -- (lgA1);
\draw[reddash] (936,3028) -- (958,3028) (978,3028) -- (1000,3028);
\coordinate (lgB0) at (1022,3028);
\coordinate (lgB1) at (1048,3028);
\draw[redarrowline] (lgB0) -- (lgB1);
\draw[reddash] (936,3059) -- (972,3059);
\coordinate (lgC0) at (1008,3059);
\coordinate (lgC1) at (1048,3059);
\draw[redarrowline] (lgC0) -- (lgC1);
\node[keytxt] (lgA) at (1065,3002) {Suivi régulier};
\node[keytxt] (lgB) at (1065,3031) {Suivi ponctuel};
\node[keytxt] (lgC) at (1065,3061) {Service ponctuel};

% organisation
\fill[bluec] \orgBlue;
\fill[yellowc] \orgYellow;
\fill[greenc] \orgGreen;
\draw[black,line width=.8pt] (1705,2502) circle (344pt) (1859.6,2807) circle (344.5pt);
\filldraw[fill=bufferc,draw=black!90,line width=3.5pt] (1853.5,2493.5) circle (168pt);
\draw[black!70,line width=.6pt] \orgYellow \orgGreen;
\begin{scope}
  \clip \orgYellow;
  \filldraw[fill=orangec,draw=black!70,line width=.6pt] \orgGreen;
\end{scope}
\filldraw[fill=commonc,draw=black!90,line width=3pt] (1855,2492) circle (81pt);
\filldraw[fill=commonc,draw=black!90,line width=3pt] (1746,2433) circle (57pt);
\filldraw[fill=commonc,draw=black!90,line width=3pt] (1926,2415) circle (38pt);
\filldraw[fill=commonc,draw=black!90,line width=3pt] (1951,2480) circle (38pt);
\node[circle,fill=red!90!black,minimum size=36pt,inner sep=0pt] (accueil) at (1858,2578.6) {};
\coordinate (bigStart) at (2202,2460);
\draw[black!90,line width=7pt] (bigStart) -- (1890,2570);
\draw[black!90,line width=5pt] (1907,2534) -- (1887,2570.6) -- (1926,2585);
\node[venntxt] (bur3a) at (1864,2287) {bureaux};
\node[venntxt] (bur3b) at (1864,2319) {3};
\node[venntxt] (reun) at (1847,2384) {réunion};
\node[anchor=base,inner sep=0pt,font=\fsz{25},text=black!88] (resto) at (1747,2439) {restau};
\node[anchor=base,inner sep=0pt,font=\fsz{25},text=black!88] (repro) at (1925,2423) {repro};
\node[anchor=base,inner sep=0pt,font=\fsz{25},text=black!88] (esp1) at (1858,2483) {espace};
\node[anchor=base,inner sep=0pt,font=\fsz{25},text=black!88] (esp2) at (1858,2515) {détente};
\node[anchor=base,inner sep=0pt,font=\fsz{25},text=black!88] (sani) at (1950,2488) {sanitaire};
\node[venntxt] (vert) at (1522,2440) {ESPACE VERT};
\node[venntxt] (open) at (1709,2570) {open-space};
\node[venntxt] (conf) at (2045,2570) {confidentialité};
\node[venntxt,text=red!90!black] (acc) at (1778,2599) {ACCUEIL};
\node[diagbold] (orS) at (1859,2654) {service};
\node[diagbold] (orD) at (1859,2681) {dev.};
\node[diagbold] (orE) at (1859,2708) {éco.};
\node[venntxt] (reun2) at (1866,2741) {réunion};
\node[venntxt] (stock) at (1859,2800) {stockage};
\node[venntxt] (burA) at (1647,2673) {bureaux};
\node[venntxt] (numU) at (1724,2720) {1};
\node[venntxt] (atA) at (1673,2768) {ateliers};
\node[venntxt] (burB) at (2047,2668) {bureaux};
\node[venntxt] (numD) at (2004,2720) {2};
\node[venntxt] (atB) at (2018,2773) {ateliers};
\node[venntxt] (park) at (1867,3017) {PARKING};
\foreach \ax in {1630,1866,2082}{
  \coordinate (up0\ax) at (\ax,2940);
  \coordinate (up1\ax) at (\ax,2860);
  \draw[upblack] (up0\ax) -- (up1\ax);
}
\filldraw[fill=commonc,draw=black!90,line width=3pt] (2154.5,2315) circle (18pt);
\filldraw[fill=bufferc,draw=black!90,line width=3pt] (2154.5,2353.6) circle (18pt);
\coordinate (keyA0) at (2119,2388);
\coordinate (keyA1) at (2168,2388);
\coordinate (keyB0) at (2119,2413);
\coordinate (keyB1) at (2168,2413);
\draw[black!90,line width=5.5pt,-{Straight Barb[length=12pt,width=26pt]}] (keyA0) -- (keyA1);
\draw[black!90,line width=2pt,-{Straight Barb[length=12pt,width=26pt]}] (keyB0) -- (keyB1);
\node[keytxt] (key1) at (2182,2332) {Espaces communs};
\node[keytxt] (key2) at (2182,2362) {Zone tampon};
\node[keytxt] (key3) at (2182,2392) {Accès principal};
\node[keytxt] (key4) at (2182,2422) {Accès particulier};

% footer
\draw[black,line width=2pt] (454,3202) -- (446,3202) -- (446,3304) -- (454,3304) (519,3202) -- (527,3202) -- (527,3304) -- (519,3304);
\node[anchor=base,inner sep=0pt,text=black!45,font=\footfont\bfseries\fsz{41}] (logoA) at (487,3269) {AU};
\node[anchor=base west,inner sep=0pt,text=black,font=\footfont\bfseries\fsz{42}] (logoB) at (545,3269) {Préalable};
\node[anchor=base west,inner sep=0pt,text=black!65,font=\footnarrow\fsz{36}] (contact) at (808,3268) {caroline-bordes@au-prealable.fr \_ 9 rue Cornac, 33000 Bordeaux \_ +33 6 80 88 04 06};
\node[anchor=base west,inner sep=0pt,text=black!50,font=\fsz{18.2}] (logoC) at (442,3325) {Programmiste-AMO architectural et urbain};
\end{tikzpicture}
\end{document}
